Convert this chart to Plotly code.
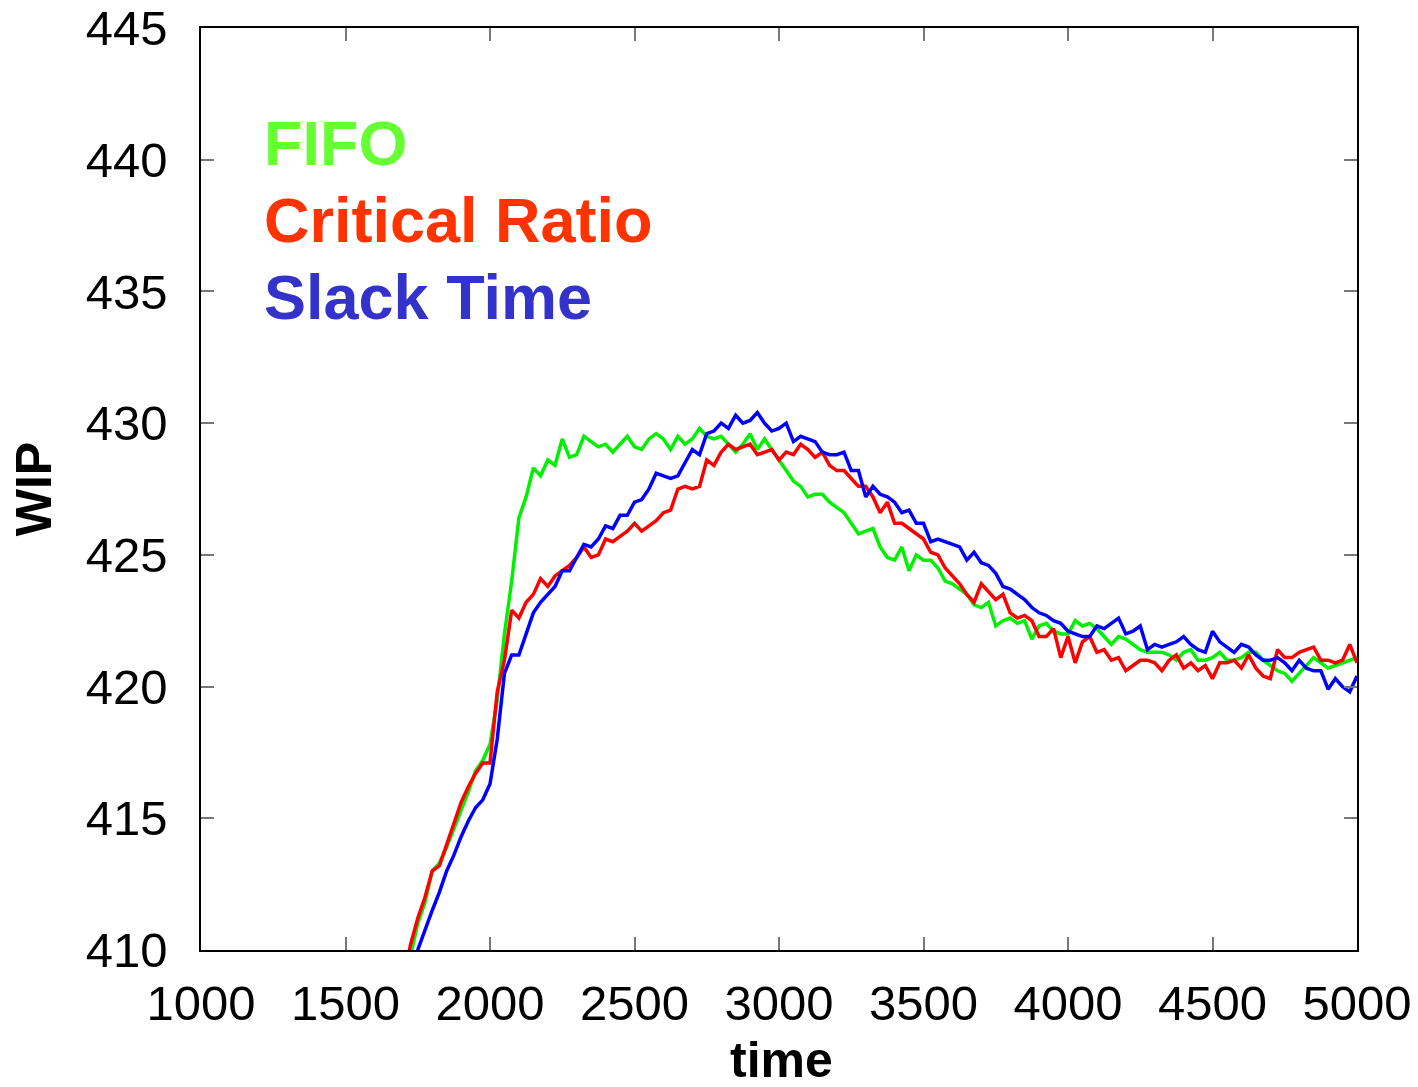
import plotly.graph_objects as go

t_start, t_end, t_step = 1700, 5000, 25
time = list(range(t_start, t_end + 1, t_step))

fifo = [
    408.8, 409.8, 411.0, 411.8, 413.0, 413.3, 413.9, 414.6,
    415.3, 416.0, 416.8, 417.2, 417.8, 419.5, 422.0, 424.0,
    426.4, 427.2, 428.3, 428.0, 428.6, 428.4, 429.4, 428.7,
    428.8, 429.5, 429.3, 429.1, 429.2, 428.9, 429.2, 429.5,
    429.1, 429.0, 429.4, 429.6, 429.4, 429.0, 429.5, 429.2,
    429.4, 429.8, 429.5, 429.4, 429.5, 429.2, 428.9, 429.2,
    429.6, 429.0, 429.4, 429.0, 428.6, 428.2, 427.8, 427.6,
    427.2, 427.3, 427.3, 427.0, 426.8, 426.6, 426.2, 425.8,
    425.9, 426.0, 425.3, 424.9, 424.8, 425.3, 424.4, 425.0,
    424.8, 424.8, 424.5, 424.0, 423.9, 423.7, 423.5, 423.1,
    423.0, 423.2, 422.3, 422.5, 422.6, 422.4, 422.5, 421.8,
    422.3, 422.4, 422.1, 422.0, 422.0, 422.5, 422.3, 422.4,
    422.2, 421.9, 421.6, 421.9, 421.8, 421.6, 421.4, 421.3,
    421.3, 421.3, 421.2, 421.0, 421.3, 421.4, 421.0, 421.0,
    421.1, 421.3, 421.0, 421.0, 421.1, 421.3, 421.3, 421.0,
    420.8, 420.6, 420.5, 420.2, 420.5, 420.8, 421.1, 420.9,
    420.7, 420.8, 420.9, 421.0, 421.1,
]

critical_ratio = [
    408.9, 410.2, 411.2, 412.0, 413.0, 413.2, 414.0, 414.8,
    415.6, 416.2, 416.7, 417.1, 417.1, 419.8, 421.0, 422.9,
    422.6, 423.2, 423.5, 424.1, 423.8, 424.2, 424.4, 424.6,
    424.9, 425.3, 424.9, 425.0, 425.6, 425.5, 425.7, 425.9,
    426.2, 425.9, 426.1, 426.3, 426.6, 426.7, 427.5, 427.6,
    427.5, 427.6, 428.6, 428.4, 428.9, 429.2, 429.0, 429.1,
    429.2, 428.8, 428.9, 429.0, 428.6, 428.9, 428.8, 429.2,
    429.0, 428.7, 428.9, 428.4, 428.2, 428.2, 427.9, 427.6,
    427.6, 427.2, 426.6, 427.0, 426.2, 426.2, 426.0, 425.8,
    425.6, 425.1, 425.0, 424.5, 424.2, 423.9, 423.5, 423.2,
    423.9, 423.6, 423.3, 423.5, 422.8, 422.6, 422.7, 422.5,
    421.9, 421.9, 422.2, 421.1, 421.9, 420.9, 421.7, 421.9,
    421.3, 421.4, 421.0, 421.1, 420.6, 420.8, 421.0, 421.0,
    420.9, 420.6, 421.0, 421.2, 420.7, 420.9, 420.6, 420.8,
    420.3, 420.9, 420.9, 421.0, 420.7, 421.2, 420.7, 420.4,
    420.3, 421.4, 421.1, 421.1, 421.3, 421.4, 421.5, 421.0,
    421.0, 420.9, 421.0, 421.6, 420.9,
]

slack_time = [
    407.8, 408.8, 410.0, 410.8, 411.5, 412.2, 413.0, 413.6,
    414.3, 414.9, 415.4, 415.7, 416.3, 418.0, 420.5, 421.2,
    421.2, 422.0, 422.8, 423.2, 423.5, 423.8, 424.4, 424.4,
    424.9, 425.4, 425.3, 425.6, 426.1, 426.0, 426.5, 426.5,
    427.0, 427.1, 427.5, 428.1, 428.0, 427.9, 428.0, 428.5,
    429.0, 428.8, 429.6, 429.7, 430.0, 429.8, 430.3, 430.0,
    430.1, 430.4, 430.0, 429.7, 429.8, 430.0, 429.3, 429.5,
    429.4, 429.3, 428.9, 428.8, 428.8, 428.9, 428.2, 428.2,
    427.2, 427.6, 427.3, 427.2, 427.0, 426.6, 426.7, 426.2,
    426.2, 425.5, 425.6, 425.5, 425.4, 425.3, 424.8, 425.1,
    424.7, 424.6, 424.3, 423.8, 423.7, 423.5, 423.3, 423.0,
    422.8, 422.7, 422.5, 422.4, 422.1, 422.0, 421.9, 421.9,
    422.3, 422.2, 422.4, 422.6, 422.0, 422.1, 422.3, 421.4,
    421.6, 421.5, 421.6, 421.7, 421.9, 421.6, 421.4, 421.3,
    422.1, 421.7, 421.5, 421.3, 421.6, 421.5, 421.2, 421.0,
    421.0, 421.1, 420.9, 420.6, 421.0, 420.7, 420.6, 420.6,
    419.9, 420.3, 420.0, 419.8, 420.4,
]

series_names = ["FIFO", "Critical Ratio", "Slack Time"]
line_colors = ["#00f000", "#ff0000", "#0000ff"]
label_colors = ["#66ff33", "#ff3300", "#3333cc"]
x_ticks = [1000, 1500, 2000, 2500, 3000, 3500, 4000, 4500, 5000]
y_ticks = [410, 415, 420, 425, 430, 435, 440, 445]

FONT = "Liberation Sans, Arial, Helvetica, sans-serif"

fig = go.Figure()
for name, ys, col in zip(series_names, [fifo, critical_ratio, slack_time], line_colors):
    n = min(len(time), len(ys))
    fig.add_trace(go.Scatter(x=time[:n], y=ys[:n], mode="lines", name=name,
                             line=dict(color=col, width=3.5), showlegend=False))

label_y = [440.63, 437.71, 434.79]
for name, col, yv in zip(series_names, label_colors, label_y):
    fig.add_annotation(x=1211, y=yv, xref="x", yref="y", text="<b>%s</b>" % name,
                       showarrow=False, xanchor="left", yanchor="middle",
                       font=dict(family=FONT, size=63, color=col))

# x-axis title placed explicitly
fig.add_annotation(x=0.502, y=-0.1193, xref="paper", yref="paper", text="<b>time</b>",
                   showarrow=False, xanchor="center", yanchor="middle",
                   font=dict(family=FONT, size=50, color="black"))

axis_common = dict(
    showgrid=False, zeroline=False, showline=True, linecolor="black", linewidth=1.5,
    mirror="allticks", ticks="inside", ticklen=13, tickwidth=1.5, tickcolor="#777777",
    tickfont=dict(family=FONT, size=49, color="black"), automargin=False,
)

fig.update_xaxes(range=[1000, 5000], tickvals=x_ticks, ticklabelstandoff=9,
                 **axis_common)
fig.update_yaxes(range=[410, 445], tickvals=y_ticks, ticklabelstandoff=22,
                 title=dict(text="<b>WIP</b>", standoff=18,
                            font=dict(family=FONT, size=50, color="black")),
                 **axis_common)

fig.update_layout(
    width=1418, height=1087,
    margin=dict(l=201, r=61, t=28, b=137),
    paper_bgcolor="white", plot_bgcolor="white",
)

fig.write_html("out.html")
